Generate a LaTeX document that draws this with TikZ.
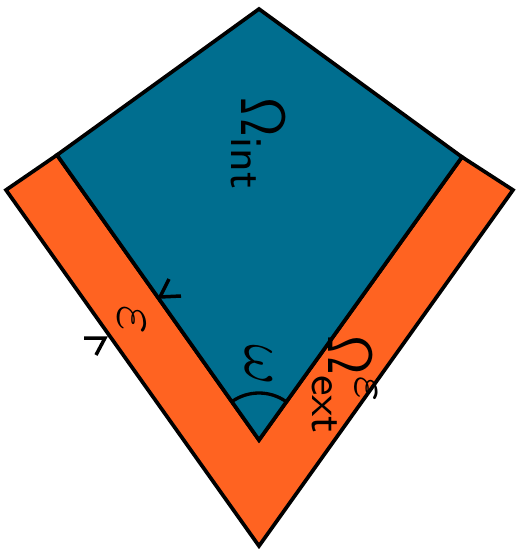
\documentclass[tikz,border=0pt]{standalone}
\usetikzlibrary{calc}
\definecolor{kiteblue}{RGB}{0,110,143}
\definecolor{bandorange}{RGB}{255,99,33}
\newcommand\BigOm{\scalebox{0.88}[1]{$\mathsf{\Omega}$}}
\newcommand\lab[1]{\scalebox{6.2}{#1}}
\begin{document}
\begin{tikzpicture}[x=1pt,y=-1pt,line width=3.7pt,line join=miter,
  lbl/.style={rotate=-90,inner sep=0pt,anchor=base west},
  tick/.style={line width=3.5pt}]
\useasboundingbox (0,0) rectangle (522,549);
% kite and band corners
\coordinate (T) at (259,9);
\coordinate (L) at (57,155);
\coordinate (B) at (259,440);
\coordinate (R) at (462,157);
\coordinate (OL) at (6,190);
\coordinate (OB) at (259,546);
\coordinate (OR) at (513,190);
% band
\filldraw[fill=bandorange] (L) -- (B) -- (R) -- (OR) -- (OB) -- (OL) -- cycle;
% interior
\filldraw[fill=kiteblue] (T) -- (L) -- (B) -- (R) -- cycle;
% angle arc
\draw[line width=3.3pt] (B) ++(235:47) arc[start angle=235,end angle=305,radius=47];
% width marks
\coordinate (ov) at (105,338);
\coordinate (iv) at (160,297);
\draw[tick] ($(ov)+(-21,0)$) -- (ov) -- ($(ov)+(-9,17)$);
\draw[tick] ($(iv)+(21,-1)$) -- (iv) -- ($(iv)+(9,-18)$);
% labels
\node[lbl] (oint) at (241,96) {\lab{$\BigOm_{\mathsf{int}}$}};
\node[lbl] (om) at (245,343) {\lab{$\omega$}};
\node[lbl] (eps) at (118,304) {\lab{$\varepsilon$}};
\node[lbl] (oext) at (328,334) {\lab{$\BigOm^{\scalebox{1.15}{$\scriptstyle\varepsilon$}}_{\mathsf{ext}}$}};
\end{tikzpicture}
\end{document}
